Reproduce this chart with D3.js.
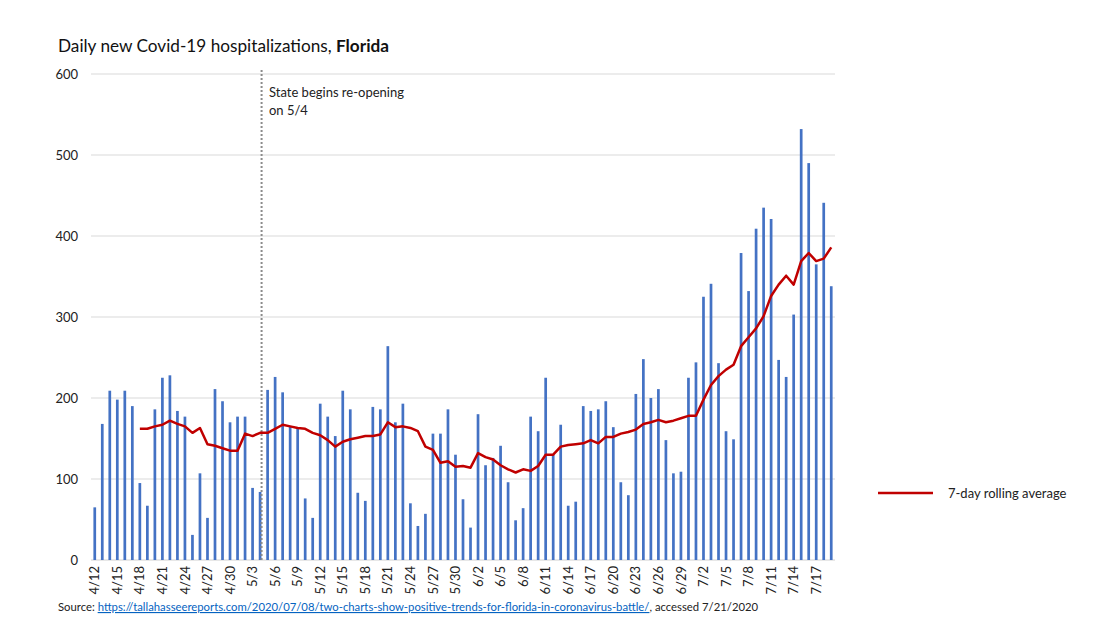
<!DOCTYPE html>
<html><head><meta charset="utf-8">
<script src="https://cdn.jsdelivr.net/npm/d3@7"></script>
<style>
body{margin:0;background:#fff;}
text{font-family:Lato,"Open Sans",sans-serif;}
</style></head>
<body><svg id="c" width="1120" height="630"></svg>
<script>
const dates = ["4/12","4/13","4/14","4/15","4/16","4/17","4/18","4/19","4/20","4/21","4/22","4/23","4/24","4/25","4/26","4/27","4/28","4/29","4/30",
"5/1","5/2","5/3","5/4","5/5","5/6","5/7","5/8","5/9","5/10","5/11","5/12","5/13","5/14","5/15","5/16","5/17","5/18","5/19","5/20","5/21","5/22","5/23","5/24","5/25","5/26","5/27","5/28","5/29","5/30","5/31",
"6/1","6/2","6/3","6/4","6/5","6/6","6/7","6/8","6/9","6/10","6/11","6/12","6/13","6/14","6/15","6/16","6/17","6/18","6/19","6/20","6/21","6/22","6/23","6/24","6/25","6/26","6/27","6/28","6/29","6/30",
"7/1","7/2","7/3","7/4","7/5","7/6","7/7","7/8","7/9","7/10","7/11","7/12","7/13","7/14","7/15","7/16","7/17","7/18","7/19"];
const daily = [65,168,209,198,209,190,95,67,186,225,228,184,177,31,107,52,211,196,170,
177,177,89,84,210,226,207,165,163,76,52,193,177,153,209,186,83,73,189,186,264,170,193,70,42,57,156,156,186,130,75,
40,180,117,126,141,96,49,64,177,159,225,130,167,67,72,190,184,186,196,164,96,80,205,248,200,211,148,107,109,225,
244,325,341,243,159,149,379,332,409,435,421,247,226,303,532,490,365,441,338];
const rolling = [null,null,null,null,null,null,162,162,165,167,172,168,165,157,163,143,141,138,135,
135,156,153,157,157,162,167,165,163,162,157,154,148,140,146,149,151,153,153,155,170,164,165,163,159,140,136,120,122,115,116,
114,132,127,124,117,112,108,112,110,116,130,130,140,142,143,144,148,144,152,152,156,158,161,168,170,173,170,172,175,178,
178,198,216,227,235,241,264,275,286,301,326,340,351,340,369,379,369,372,386];
const yTicks = [0,100,200,300,400,500,600];
const tickLabels = dates.filter((d,i)=>i%3===0);
const reopenDate = "5/4";

const svg = d3.select("#c");
const M = {left:91, right:835, top:74, bottom:560};
const x = d3.scaleBand().domain(dates).range([M.left,M.right]).paddingInner(0.64).paddingOuter(0.32);
const y = d3.scaleLinear().domain([0,600]).range([M.bottom,M.top]);
const cx = d => x(d)+x.bandwidth()/2;

// gridlines
svg.append("g").selectAll("line").data(yTicks).join("line")
  .attr("x1",M.left).attr("x2",M.right).attr("y1",d=>y(d)).attr("y2",d=>y(d))
  .attr("stroke",d=>d===0?"#d0d0d0":"#d9d9d9").attr("stroke-width",1);

// y labels
svg.append("g").selectAll("text").data(yTicks).join("text")
  .attr("x",78).attr("y",d=>y(d)).attr("dy","0.35em").attr("text-anchor","end")
  .attr("font-size",13).attr("fill","#222").text(d=>d);

// bars
svg.append("g").selectAll("rect").data(daily).join("rect")
  .attr("x",(d,i)=>x(dates[i])).attr("width",x.bandwidth())
  .attr("y",d=>y(d)).attr("height",d=>y(0)-y(d)).attr("fill","#4472C4");

// reopen line
const rx = cx(reopenDate)+1.5;
svg.append("line").attr("x1",rx).attr("x2",rx).attr("y1",70).attr("y2",M.bottom)
  .attr("stroke","#8c8c8c").attr("stroke-width",2).attr("stroke-dasharray","2,2");
svg.append("text").attr("x",269).attr("y",97).attr("font-size",13).attr("fill","#222").text("State begins re-opening");
svg.append("text").attr("x",269).attr("y",115).attr("font-size",13).attr("fill","#222").text("on 5/4");

// rolling line
const pts = rolling.map((v,i)=>({k:dates[i],v}));
svg.append("path").datum(pts)
  .attr("d",d3.line().defined(d=>d.v!=null).x(d=>cx(d.k)).y(d=>y(d.v)))
  .attr("fill","none").attr("stroke","#C00000").attr("stroke-width",2.5).attr("stroke-linejoin","round");

// x labels
svg.append("g").selectAll("text").data(tickLabels).join("text")
  .attr("transform",d=>`translate(${cx(d)},566) rotate(-90)`)
  .attr("dy","0.35em").attr("text-anchor","end").attr("font-size",13).attr("fill","#222").text(d=>d);

// title
const t = svg.append("text").attr("x",58).attr("y",52).attr("font-size",17.2).attr("fill","#111");
t.append("tspan").text("Daily new Covid-19 hospitalizations, ");
t.append("tspan").attr("font-weight","bold").text("Florida");

// legend
svg.append("line").attr("x1",878).attr("x2",933).attr("y1",493).attr("y2",493).attr("stroke","#C00000").attr("stroke-width",2.5);
svg.append("text").attr("x",948).attr("y",498).attr("font-size",13).attr("fill","#222").text("7-day rolling average");

// source
const s = svg.append("text").attr("x",58).attr("y",611).attr("font-size",11.3).attr("fill","#222");
s.append("tspan").text("Source: ");
s.append("tspan").attr("fill","#0563C1").attr("text-decoration","underline").text("https://tallahasseereports.com/2020/07/08/two-charts-show-positive-trends-for-florida-in-coronavirus-battle/");
s.append("tspan").text(", accessed 7/21/2020");
</script></body></html>
